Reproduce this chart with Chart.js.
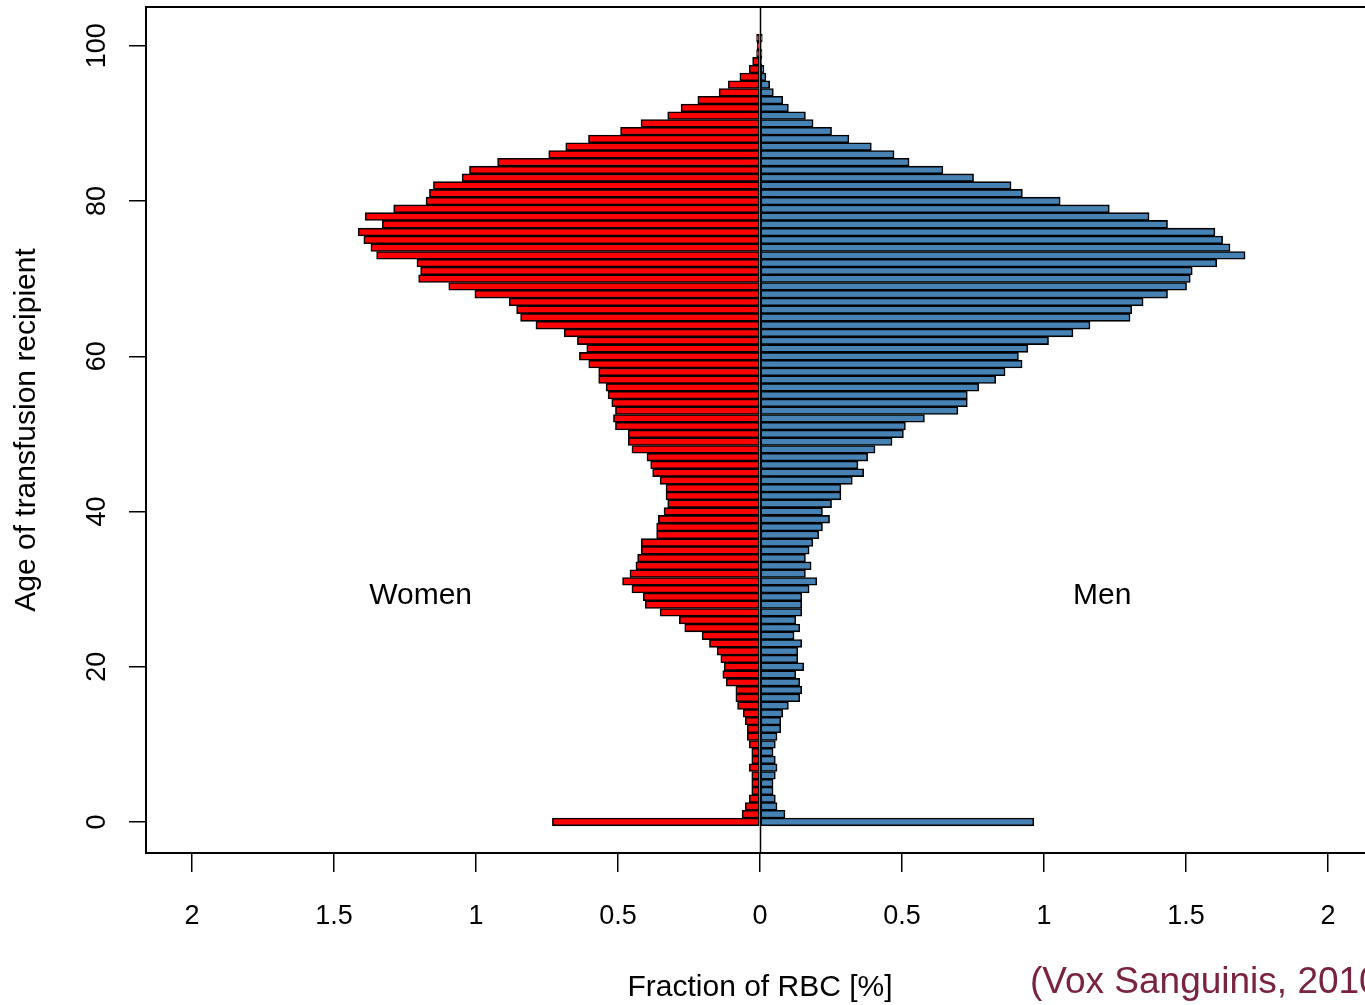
<!DOCTYPE html>
<html>
<head>
<meta charset="utf-8">
<title>Age of transfusion recipient</title>
<script src="https://cdn.jsdelivr.net/npm/chart.js@4.4.1/dist/chart.umd.min.js"></script>
<style>
  html, body { margin: 0; padding: 0; background: #fff; overflow: hidden; }
  #wrap { width: 1365px; height: 1005px; overflow: hidden; }
</style>
</head>
<body>
<div id="wrap"><canvas id="pyramid" width="1385" height="1005"></canvas></div>
<script>
// age of recipient, 0..101 (one bar per year)
const ages = Array.from({ length: 102 }, (_, i) => i);

// fraction of RBC units [%]
const women = [
  0.731, 0.063, 0.052, 0.038, 0.029, 0.029, 0.029, 0.038, 0.029, 0.029,
  0.038, 0.045, 0.045, 0.052, 0.059, 0.079, 0.085, 0.085, 0.119, 0.131,
  0.126, 0.138, 0.151, 0.178, 0.204, 0.265, 0.284, 0.352, 0.404, 0.411,
  0.451, 0.484, 0.458, 0.437, 0.431, 0.418, 0.418, 0.364, 0.364, 0.358,
  0.338, 0.325, 0.331, 0.331, 0.352, 0.378, 0.385, 0.398, 0.451, 0.464,
  0.464, 0.509, 0.516, 0.509, 0.522, 0.535, 0.542, 0.568, 0.568, 0.603,
  0.636, 0.610, 0.643, 0.689, 0.789, 0.843, 0.857, 0.883, 1.004, 1.096,
  1.202, 1.195, 1.208, 1.350, 1.370, 1.395, 1.415, 1.330, 1.390, 1.290,
  1.176, 1.164, 1.150, 1.049, 1.023, 0.924, 0.744, 0.684, 0.604, 0.491,
  0.419, 0.325, 0.278, 0.219, 0.144, 0.112, 0.071, 0.038, 0.026, 0.012,
  0.010, 0.012
];
const men = [
  0.964, 0.088, 0.060, 0.054, 0.046, 0.046, 0.054, 0.060, 0.054, 0.046,
  0.054, 0.060, 0.073, 0.073, 0.080, 0.100, 0.140, 0.147, 0.140, 0.126,
  0.154, 0.133, 0.133, 0.147, 0.120, 0.140, 0.126, 0.147, 0.147, 0.147,
  0.173, 0.200, 0.160, 0.180, 0.160, 0.173, 0.186, 0.207, 0.220, 0.245,
  0.220, 0.252, 0.285, 0.285, 0.325, 0.365, 0.345, 0.379, 0.405, 0.465,
  0.505, 0.512, 0.579, 0.697, 0.730, 0.730, 0.770, 0.830, 0.863, 0.923,
  0.910, 0.943, 1.016, 1.102, 1.162, 1.303, 1.309, 1.349, 1.435, 1.502,
  1.515, 1.522, 1.608, 1.708, 1.655, 1.629, 1.602, 1.435, 1.370, 1.230,
  1.057, 0.924, 0.884, 0.752, 0.644, 0.525, 0.472, 0.392, 0.313, 0.252,
  0.187, 0.160, 0.100, 0.080, 0.047, 0.034, 0.021, 0.014, 0.006, 0.007,
  0.004, 0.008
];

const xTicks = [-2, -1.5, -1, -0.5, 0, 0.5, 1, 1.5, 2];
const yTicks = [0, 20, 40, 60, 80, 100];

const xTitle = "Fraction of RBC [%]";
const yTitle = "Age of transfusion recipient";
const source = "(Vox Sanguinis, 2010)";

const FONT = '"Liberation Sans", Arial, Helvetica, sans-serif';

// box, centre line and all the free text (R base-graphics look)
const decor = {
  id: "decor",
  afterDatasetsDraw(chart) {
    const { ctx, chartArea: a, scales: { x, y } } = chart;
    ctx.save();
    ctx.strokeStyle = "#000";

    const x0 = Math.round(x.getPixelForValue(0)) + 0.5;
    ctx.lineWidth = 1.5;
    ctx.beginPath();
    ctx.moveTo(x0, a.top);
    ctx.lineTo(x0, a.bottom);
    ctx.stroke();

    ctx.lineWidth = 2;
    ctx.strokeRect(a.left, a.top, a.right - a.left, a.bottom - a.top);

    ctx.fillStyle = "#000";
    ctx.textAlign = "center";
    ctx.textBaseline = "middle";

    ctx.font = "30px " + FONT;
    ctx.fillText("Women", x.getPixelForValue(-1.195), y.getPixelForValue(29.1));
    ctx.fillText("Men", x.getPixelForValue(1.205), y.getPixelForValue(29.1));

    // rotated y tick labels
    ctx.font = "27px " + FONT;
    yTicks.forEach(v => {
      ctx.save();
      ctx.translate(98, y.getPixelForValue(v));
      ctx.rotate(-Math.PI / 2);
      ctx.fillText(String(v), 0, 0);
      ctx.restore();
    });

    ctx.font = "30px " + FONT;
    ctx.save();
    ctx.translate(27, (a.top + a.bottom) / 2);
    ctx.rotate(-Math.PI / 2);
    ctx.fillText(yTitle, 0, 0);
    ctx.restore();

    ctx.fillText(xTitle, x.getPixelForValue(0), 988);

    ctx.fillStyle = "#7a2341";
    ctx.font = "37px " + FONT;
    ctx.textAlign = "left";
    ctx.textBaseline = "alphabetic";
    ctx.fillText(source, 1030, 993);
    ctx.restore();
  }
};

const ctx = document.getElementById("pyramid").getContext("2d");

new Chart(ctx, {
  type: "bar",
  data: {
    datasets: [
      {
        label: "Women",
        data: ages.map((age, i) => ({ x: -women[i], y: age })),
        backgroundColor: "#ff0000",
        borderColor: "#000",
        borderWidth: 1.6,
        borderSkipped: false,
        grouped: false
      },
      {
        label: "Men",
        data: ages.map((age, i) => ({ x: men[i], y: age })),
        backgroundColor: "#4682b4",
        borderColor: "#000",
        borderWidth: 1.6,
        borderSkipped: false,
        grouped: false
      }
    ]
  },
  options: {
    indexAxis: "y",
    responsive: false,
    animation: false,
    barPercentage: 1,
    categoryPercentage: 1,
    layout: { padding: { top: 7, right: 11, left: 0, bottom: 0 } },
    plugins: {
      legend: { display: false },
      tooltip: { enabled: false }
    },
    scales: {
      x: {
        type: "linear",
        min: -2.162,
        max: 2.162,
        afterBuildTicks: s => { s.ticks = xTicks.map(v => ({ value: v })); },
        afterFit: s => { s.height = 152; },
        ticks: {
          callback: v => String(Math.abs(v)),
          font: { size: 27, family: FONT },
          color: "#000",
          padding: 28,
          maxRotation: 0,
          autoSkip: false
        },
        grid: { drawOnChartArea: false, drawTicks: true, tickLength: 19, color: "#000", lineWidth: 1.5 },
        border: { display: false }
      },
      y: {
        type: "linear",
        offset: false,
        min: -4,
        max: 105,
        afterBuildTicks: s => { s.ticks = yTicks.map(v => ({ value: v })); },
        afterFit: s => { s.width = 146; },
        ticks: { display: false },
        grid: { offset: false, drawOnChartArea: false, drawTicks: true, tickLength: 17, color: "#000", lineWidth: 1.5 },
        border: { display: false }
      }
    }
  },
  plugins: [decor]
});
</script>
</body>
</html>
